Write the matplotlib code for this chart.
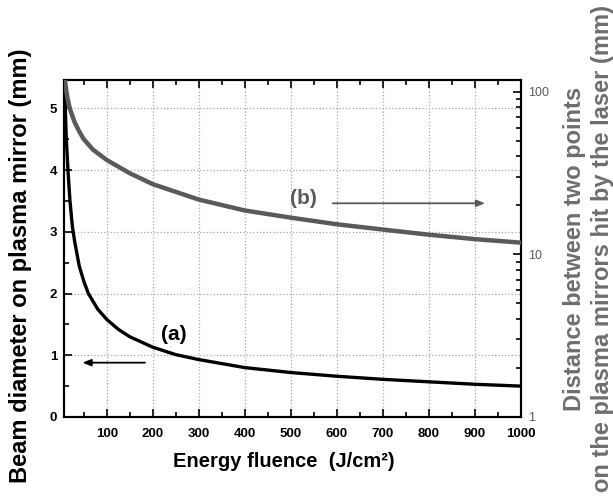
import numpy as np
import matplotlib.pyplot as plt
from matplotlib.ticker import MultipleLocator, LogLocator, NullFormatter

plt.rcParams['font.family'] = ['Liberation Sans', 'DejaVu Sans']

# curve (a): beam diameter on plasma mirror (mm), left axis
fluence_a = [8.5, 10, 12, 16, 20, 25, 30, 40, 50, 60, 80, 100, 125, 150, 200,
             250, 300, 400, 500, 600, 700, 800, 900, 1000]
diameter = [5.4, 4.95, 4.5, 3.95, 3.5, 3.1, 2.85, 2.45, 2.2, 2.0, 1.75, 1.58, 1.42, 1.3, 1.13,
            1.01, 0.93, 0.8, 0.72, 0.66, 0.61, 0.57, 0.53, 0.5]

# curve (b): distance between two points on the plasma mirrors (mm), right log axis
fluence_b = [8.5, 10, 12, 15, 20, 30, 40, 50, 70, 100, 150, 200, 300, 400, 500, 600, 700, 800, 900, 1000]
distance = [120, 111, 101, 90, 78, 65, 57, 51, 44, 38, 31.5, 27, 21.7, 18.6, 16.8, 15.3, 14.2, 13.2, 12.4, 11.8]

xticks = [100, 200, 300, 400, 500, 600, 700, 800, 900, 1000]
gray = '#5a5a5a'

fig = plt.figure(figsize=(6.13, 5.03), dpi=100)
ax = fig.add_axes([0.1044, 0.171, 0.7455, 0.670])
ax2 = ax.twinx()

ax.plot(fluence_a, diameter, color='black', lw=2.4, solid_capstyle='round', zorder=3)
ax2.plot(fluence_b, distance, color=gray, lw=3.2, solid_capstyle='round', zorder=3)

ax.set_xlim(7, 1000)
ax.set_ylim(0, 5.46)
ax2.set_ylim(1, 118)
ax2.set_yscale('log')

ax.set_xticks(xticks)
ax.xaxis.set_minor_locator(MultipleLocator(50))
ax.yaxis.set_major_locator(MultipleLocator(1))
ax.yaxis.set_minor_locator(MultipleLocator(0.5))
ax.tick_params(which='both', direction='in', top=True, right=False, width=1.2)
ax.tick_params(which='major', length=6, labelsize=9.5, pad=5)
ax.tick_params(axis='x', which='major', pad=8)
ax.tick_params(which='minor', length=3.5)
for lab in ax.get_xticklabels() + ax.get_yticklabels():
    lab.set_fontweight('bold')

ax2.yaxis.set_minor_locator(LogLocator(base=10, subs=np.arange(2, 10), numticks=10))
ax2.yaxis.set_minor_formatter(NullFormatter())
ax2.set_yticks([1, 10, 100])
ax2.set_yticklabels(['1', '10', '100'])
ax2.tick_params(which='both', direction='in', width=1.2, labelcolor=gray)
ax2.tick_params(which='major', length=6, labelsize=9, pad=5)
ax2.tick_params(which='minor', length=3.5)

ax.grid(True, which='major', ls=':', lw=0.9, color='#a8a8a8')
for sp in list(ax.spines.values()) + list(ax2.spines.values()):
    sp.set_linewidth(1.5)

ax.set_xlabel('Energy fluence  (J/cm²)', fontsize=14.5, fontweight='bold')
ax.xaxis.set_label_coords(0.48, -0.105)
ax.set_ylabel('Beam diameter on plasma mirror (mm)', fontsize=17, fontweight='bold')
ax.yaxis.set_label_coords(-0.07, 0.45)
ax2.set_ylabel('Distance between two points\non the plasma mirrors hit by the laser (mm)',
               fontsize=17, fontweight='bold', color='#6e6e6e', labelpad=10, linespacing=1.3)

# annotations
ax.text(245, 1.34, '(a)', fontsize=15, fontweight='bold', ha='center', va='center')
ax.annotate('', xy=(41, 0.88), xytext=(189, 0.88),
            arrowprops=dict(arrowstyle='-|>,head_length=0.5,head_width=0.2', color='black', lw=1.3))
ax2.text(528, 22, '(b)', fontsize=15, fontweight='bold', color=gray, ha='center', va='center')
ax2.annotate('', xy=(928, 20.6), xytext=(585, 20.6),
             arrowprops=dict(arrowstyle='-|>,head_length=0.5,head_width=0.2', color=gray, lw=1.3))

fig.savefig('out.png', dpi=100)
